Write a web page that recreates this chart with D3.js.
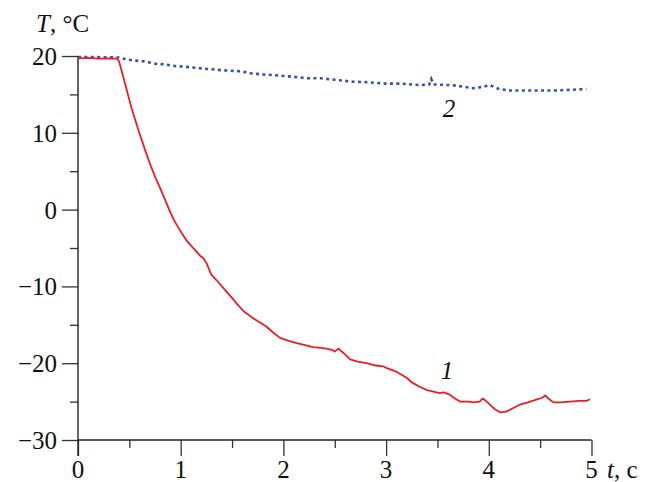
<!DOCTYPE html>
<html lang="ru">
<head>
    <meta charset="UTF-8">
    <title>T(t)</title>
    <script src="https://d3js.org/d3.v7.min.js"></script>
    <style>
        body { margin: 0; background: #fff; }
        svg text { font-family: "Liberation Serif", "DejaVu Serif", serif; fill: #111; }
        .tick-label { font-size: 25px; }
        .axis-title { font-size: 25px; }
        .curve-label { font-size: 25px; font-style: italic; }
    </style>
</head>
<body>
    <svg id="chart"></svg>

    <script>
        // Curve 1 (red, solid): time in s, temperature in deg C
        const t1 = [0, 0.1, 0.2, 0.3, 0.38, 0.40, 0.42, 0.45, 0.474, 0.52, 0.587, 0.65, 0.70, 0.75, 0.80, 0.85,
            0.90, 0.944, 0.993, 1.05, 1.10, 1.15, 1.188, 1.22, 1.253, 1.28, 1.30, 1.35, 1.42, 1.50, 1.55, 1.61,
            1.70, 1.76, 1.837, 1.90, 1.967, 2.05, 2.13, 2.20, 2.29, 2.36, 2.42, 2.48, 2.50, 2.535, 2.58, 2.65,
            2.72, 2.81, 2.90, 2.97, 3.00, 3.10, 3.20, 3.25, 3.33, 3.40, 3.46, 3.52, 3.56, 3.62, 3.67, 3.72,
            3.80, 3.85, 3.91, 3.94, 3.96, 3.98, 4.01, 4.06, 4.11, 4.17, 4.23, 4.30, 4.38, 4.47, 4.52, 4.55,
            4.58, 4.63, 4.70, 4.79, 4.88, 4.95, 4.985];
        const temp1 = [19.7, 19.75, 19.65, 19.7, 19.65, 19.3, 18.3, 16.8, 15.6, 13.3, 10.4, 7.9, 6.0, 4.3, 2.8, 1.2,
            -0.4, -1.6, -2.7, -3.9, -4.7, -5.4, -6.0, -6.3, -7.0, -7.9, -8.5, -9.2, -10.3, -11.5, -12.3, -13.2,
            -14.1, -14.6, -15.25, -16.0, -16.7, -17.1, -17.4, -17.6, -17.9, -18.0, -18.1, -18.3, -18.5, -18.1, -18.6, -19.5,
            -19.8, -20.0, -20.3, -20.4, -20.6, -21.1, -21.9, -22.5, -23.1, -23.5, -23.7, -23.9, -23.8, -24.1, -24.6, -25.0,
            -25.0, -25.1, -25.0, -24.6, -24.8, -25.0, -25.4, -26.0, -26.4, -26.3, -25.9, -25.4, -25.1, -24.7, -24.5, -24.2,
            -24.6, -25.1, -25.1, -25.0, -24.9, -24.9, -24.7];

        // Curve 2 (blue, dotted)
        const t2 = [0, 0.2, 0.4, 0.46, 0.55, 0.62, 0.75, 0.85, 0.94, 1.05, 1.15, 1.27, 1.40, 1.59, 1.70, 1.80,
            1.92, 2.05, 2.24, 2.36, 2.50, 2.68, 2.80, 3.0, 3.15, 3.33, 3.42, 3.44, 3.46, 3.65, 3.75, 3.85,
            3.95, 4.01, 4.10, 4.21, 4.40, 4.63, 4.80, 4.95];
        const temp2 = [19.85, 19.85, 19.8, 19.6, 19.4, 19.35, 19.0, 18.9, 18.7, 18.6, 18.45, 18.3, 18.15, 18.0, 17.7, 17.6,
            17.5, 17.35, 17.1, 17.1, 16.9, 16.65, 16.6, 16.4, 16.4, 16.2, 16.3, 17.0, 16.3, 16.2, 16.0, 15.8,
            16.0, 16.2, 15.7, 15.5, 15.5, 15.5, 15.6, 15.7];

        const xMajor = [0, 1, 2, 3, 4, 5];
        const xMinor = [0.5, 1.5, 2.5, 3.5, 4.5];
        const yMajor = [20, 10, 0, -10, -20, -30];
        const yMinor = [15, 5, -5, -15, -25];

        const width = 651;
        const height = 482;

        const svg = d3.select("#chart")
            .attr("width", width)
            .attr("height", height);

        const x = d3.scaleLinear().domain([0, 5]).range([78, 591.5]);
        const y = d3.scaleLinear().domain([-30, 20]).range([440, 56]);

        const fmt = d => d < 0 ? "\u2212" + Math.abs(d) : String(d);

        // x axis: ticks go down, outside
        const xAxis = svg.append("g").attr("transform", `translate(0,${y(-30)})`);
        xAxis.call(d3.axisBottom(x).tickValues(xMajor).tickSize(16).tickSizeOuter(0).tickFormat(""));
        xAxis.append("g").call(d3.axisBottom(x).tickValues(xMinor).tickSize(8).tickFormat(""));
        xAxis.selectAll(".domain").remove();
        xAxis.selectAll("line").attr("stroke", "#333").attr("stroke-width", 1.3);

        // y axis: ticks go left
        const yAxis = svg.append("g").attr("transform", `translate(${x(0)},0)`);
        yAxis.call(d3.axisLeft(y).tickValues(yMajor).tickSize(16).tickSizeOuter(0).tickFormat(""));
        yAxis.append("g").call(d3.axisLeft(y).tickValues(yMinor).tickSize(8).tickFormat(""));
        yAxis.selectAll(".domain").remove();
        yAxis.selectAll("line").attr("stroke", "#333").attr("stroke-width", 1.3);

        // axis lines
        svg.append("line")
            .attr("x1", x(0)).attr("x2", x(5))
            .attr("y1", y(-30)).attr("y2", y(-30))
            .attr("stroke", "#222").attr("stroke-width", 1.4);
        svg.append("line")
            .attr("x1", x(0)).attr("x2", x(0))
            .attr("y1", y(20)).attr("y2", y(-30) + 16)
            .attr("stroke", "#222").attr("stroke-width", 1.4);

        // tick labels
        svg.selectAll(".xl")
            .data(xMajor)
            .enter().append("text")
            .attr("class", "tick-label")
            .attr("x", d => x(d))
            .attr("y", 478)
            .attr("text-anchor", "middle")
            .text(fmt);

        svg.selectAll(".yl")
            .data(yMajor)
            .enter().append("text")
            .attr("class", "tick-label")
            .attr("x", 57)
            .attr("y", d => y(d) + 9)
            .attr("text-anchor", "end")
            .text(fmt);

        // axis titles
        const yTitle = svg.append("text").attr("class", "axis-title").attr("x", 36).attr("y", 32);
        yTitle.append("tspan").attr("font-style", "italic").text("T");
        yTitle.append("tspan").text(", \u00b0C");

        const xTitle = svg.append("text").attr("class", "axis-title").attr("x", 607).attr("y", 478);
        xTitle.append("tspan").attr("font-style", "italic").text("t");
        xTitle.append("tspan").text(", c");

        // curves
        const line = d3.line()
            .x(d => x(d[0]))
            .y(d => y(d[1]));

        svg.append("path")
            .datum(d3.zip(t2, temp2))
            .attr("d", line)
            .attr("fill", "none")
            .attr("stroke", "#3652a6")
            .attr("stroke-width", 2.6)
            .attr("stroke-dasharray", "3,3.4");

        svg.append("path")
            .datum(d3.zip(t1, temp1))
            .attr("d", line)
            .attr("fill", "none")
            .attr("stroke", "#ee1c25")
            .attr("stroke-width", 1.8)
            .attr("stroke-linejoin", "round");

        // curve labels
        svg.append("text").attr("class", "curve-label")
            .attr("x", 449).attr("y", 117).attr("text-anchor", "middle").text("2");
        svg.append("text").attr("class", "curve-label")
            .attr("x", 447).attr("y", 379).attr("text-anchor", "middle").text("1");
    </script>
</body>
</html>
